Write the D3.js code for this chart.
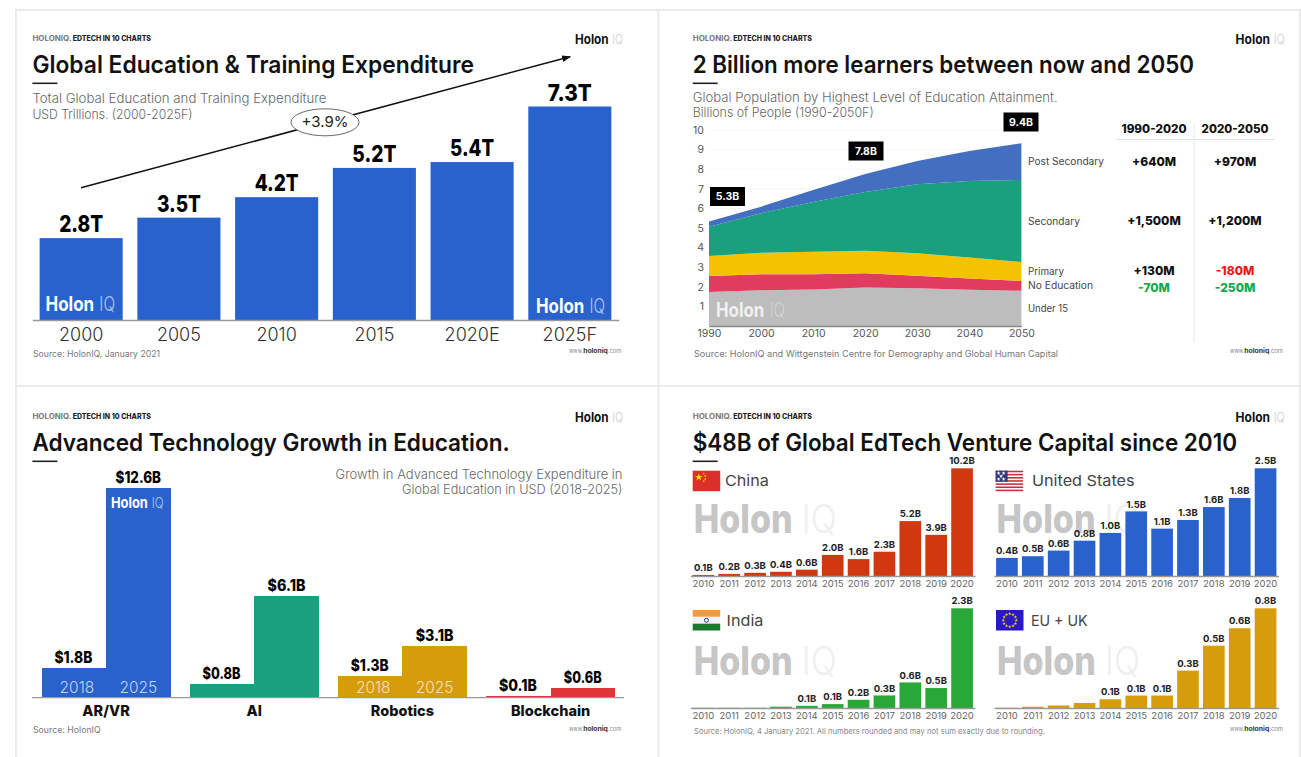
<!DOCTYPE html>
<html><head><meta charset="utf-8">
<script src="https://cdn.jsdelivr.net/npm/d3@7/dist/d3.min.js"></script>
<style>html,body{margin:0;padding:0;background:#fff;overflow:hidden}svg{display:block}text{font-family:Inter,"Noto Sans",sans-serif}</style>
</head><body><svg id="c" width="1301" height="757"></svg>
<script>
// Panel 1
const expYears = ["2000","2005","2010","2015","2020E","2025F"];
const expValues = [2.8,3.5,4.2,5.2,5.4,7.3];
// Panel 2
const popYears = [1990,2000,2010,2020,2030,2040,2050];
const under15 = [1.73,1.82,1.86,1.97,1.92,1.85,1.80];
const noEducation = [0.82,0.82,0.78,0.72,0.65,0.57,0.50];
const primary = [1.02,1.10,1.15,1.15,1.14,1.07,0.97];
const secondary = [1.50,2.01,2.54,3.00,3.52,3.91,4.18];
const postSecondary = [0.26,0.34,0.61,0.92,1.19,1.53,1.87];
const popTotals = [[1990,"5.3B"],[2020,"7.8B"],[2050,"9.4B"]];
const tableHead = ["1990-2020","2020-2050"];
const tablePeriod1 = ["+640M","+1,500M","+130M","-70M"];
const tablePeriod2 = ["+970M","+1,200M","-180M","-250M"];
// Panel 3
const techCats = ["AR/VR","AI","Robotics","Blockchain"];
const tech2018 = [1.8,0.8,1.3,0.1];
const tech2025 = [12.6,6.1,3.1,0.6];
// Panel 4
const vcYears = ["2010","2011","2012","2013","2014","2015","2016","2017","2018","2019","2020"];
const chinaVC = [0.1,0.2,0.3,0.4,0.6,2.0,1.6,2.3,5.2,3.9,10.2];
const usVC = [0.42,0.46,0.59,0.82,1.0,1.5,1.1,1.3,1.6,1.81,2.5];
const indiaVC = [0.005,0.005,0.005,0.03,0.05,0.09,0.19,0.29,0.59,0.46,2.3];
const euVC = [0.002,0.01,0.02,0.04,0.07,0.1,0.1,0.3,0.5,0.64,0.8];

const BLUE="#2962cc", GREEN="#18a07f", GOLD="#d69c0b", RED="#e03535";
const svg=d3.select("#c");
svg.append("rect").attr("width",1301).attr("height",757).attr("fill","#fff");

function t(g,x,y,s,o={}){
  const e=g.append("text").attr("x",x).attr("y",y).attr("dy",".36em").text(s)
    .attr("font-size",o.size||12).attr("font-weight",o.w||400).attr("fill",o.c||"#222")
    .attr("text-anchor",o.a||"start");
  if(o.len){e.attr("textLength",o.len).attr("lengthAdjust","spacingAndGlyphs");}
  return e;
}
function logo(g,x0,x1,y,size,c1,c2){
  const w=x1-x0, hw=w*0.70, gap=w*0.075;
  t(g,x0,y,"Holon",{size,w:700,c:c1,len:hw});
  t(g,x0+hw+gap,y,"IQ",{size,w:300,c:c2,len:w-hw-gap});
}
function chrome(px,py,title,titleEnd,hdEnd,wwwX0,wwwX1,wwwY,logoX0,logoX1,logoY){
  const g=svg.append("g");
  t(g,px,py,"HOLONIQ.",{size:7,w:700,c:"#777",len:(hdEnd-px)*0.33});
  t(g,px+(hdEnd-px)*0.34,py," EDTECH IN 10 CHARTS",{size:7,w:800,c:"#222",len:(hdEnd-px)*0.66});
  t(g,px,py+26.5,title,{size:24,w:600,c:"#111",len:titleEnd-px});
  g.append("rect").attr("x",px).attr("y",py+44.5).attr("width",25).attr("height",1.6).attr("fill","#222");
  t(g,wwwX0,wwwY,"www.",{size:6,c:"#888",len:(wwwX1-wwwX0)*0.27});
  t(g,wwwX0+(wwwX1-wwwX0)*0.27,wwwY,"holoniq",{size:6,w:700,c:"#333",len:(wwwX1-wwwX0)*0.47});
  t(g,wwwX0+(wwwX1-wwwX0)*0.74,wwwY,".com",{size:6,c:"#888",len:(wwwX1-wwwX0)*0.26});
  logo(g,logoX0,logoX1,logoY,13,"#111","#ccc");
  return g;
}
function styleAxis(ax,size,color,lineColor,weight){
  ax.selectAll(".tick line").remove();
  ax.select(".domain").attr("stroke",lineColor).attr("stroke-width",1.3);
  ax.selectAll("text").attr("font-size",size).attr("fill",color).attr("font-family","Inter,sans-serif").attr("font-weight",weight||400);
}

// panel frame
[[15,9,1286,1.8],[15,385,1286,1.8],[15,9,1.8,748],[657.5,9,1.8,748],[1299,9,1.8,748]].forEach(r=>
  svg.append("rect").attr("x",r[0]).attr("y",r[1]).attr("width",r[2]).attr("height",r[3]).attr("fill","#e9e9e9"));

// ---------- Panel 1
{
  const g=chrome(32.4,38,"Global Education & Training Expenditure",474,151,569,621.5,350.5,575,623,39);
  t(g,32.4,98,"Total Global Education and Training Expenditure",{size:13,c:"#666",w:300,len:294});
  t(g,32.4,114,"USD Trillions. (2000-2025F)",{size:13,c:"#666",w:300,len:160});
  const x=d3.scaleBand().domain(expYears).range([32.3,618.7]).paddingInner(.15).paddingOuter(.075);
  const y=d3.scaleLinear().domain([0,7.3]).range([320,106.5]);
  g.selectAll("rect.b").data(expValues).join("rect").attr("class","b")
    .attr("x",(d,i)=>x(expYears[i])).attr("width",x.bandwidth()).attr("y",d=>y(d)).attr("height",d=>y(0)-y(d)).attr("fill",BLUE);
  const ax=g.append("g").attr("transform","translate(0,320)").call(d3.axisBottom(x).tickSize(0).tickPadding(8));
  styleAxis(ax,18,"#333","#999",300);
  expValues.forEach((d,i)=>t(g,x(expYears[i])+x.bandwidth()/2,y(d)-14,d.toFixed(1)+"T",{size:23,w:800,c:"#000",a:"middle",len:44}));
  logo(g,45.5,115,304,20,"#fff","rgba(255,255,255,.65)");
  logo(g,536,605,306,20,"#fff","rgba(255,255,255,.65)");
  svg.append("defs").append("marker").attr("id","ah").attr("viewBox","0 0 8 6").attr("refX",7).attr("refY",3)
    .attr("markerWidth",6).attr("markerHeight",5).attr("orient","auto").append("path").attr("d","M0,0L8,3L0,6Z").attr("fill","#111");
  g.append("line").attr("x1",81).attr("y1",187.7).attr("x2",570).attr("y2",56.7).attr("stroke","#111").attr("stroke-width",1.5).attr("marker-end","url(#ah)");
  g.append("ellipse").attr("cx",325).attr("cy",122.3).attr("rx",34).attr("ry",13.5).attr("fill","#fff").attr("stroke","#444").attr("stroke-width",.8);
  t(g,325,121.5,"+3.9%",{size:15,c:"#222",a:"middle",len:47});
  t(g,33,354,"Source: HolonIQ, January 2021",{size:9,c:"#777",len:127});
}

// ---------- Panel 2
{
  const g=chrome(692.7,38,"2 Billion more learners between now and 2050",1194,812,1230,1283,350.5,1235.6,1284.7,39);
  t(g,692.7,97,"Global Population by Highest Level of Education Attainment.",{size:13,c:"#666",w:300,len:365});
  t(g,692.7,112,"Billions of People (1990-2050F)",{size:13,c:"#666",w:300,len:181});
  const x=d3.scaleLinear().domain([1990,2050]).range([709,1021.4]);
  const y=d3.scaleLinear().domain([0,10]).range([326,130]);
  const yTicks=d3.range(1,11);
  yTicks.forEach(v=>g.append("line").attr("x1",709).attr("x2",1021.4).attr("y1",y(v)).attr("y2",y(v)).attr("stroke","#f6f6f6"));
  const keys=["under15","noEducation","primary","secondary","postSecondary"];
  const src={under15,noEducation,primary,secondary,postSecondary};
  const rows=popYears.map((yr,i)=>{const r={yr};keys.forEach(k=>r[k]=src[k][i]);return r;});
  const cols={under15:"#bdbdbd",noEducation:"#e23b60",primary:"#f4c300",secondary:"#18a07f",postSecondary:"#446fc0"};
  const area=d3.area().x(d=>x(d.data.yr)).y0(d=>y(d[0])).y1(d=>y(d[1]));
  g.selectAll("path.a").data(d3.stack().keys(keys)(rows)).join("path").attr("class","a").attr("d",area).attr("fill",d=>cols[d.key]);
  const ax=g.append("g").attr("transform","translate(0,326)")
    .call(d3.axisBottom(x).tickValues(popYears).tickFormat(d3.format("d")).tickSize(0).tickPadding(3.5));
  styleAxis(ax,10.5,"#555","#888");
  const ay=g.append("g").attr("transform","translate(704,0)").call(d3.axisLeft(y).tickValues(yTicks).tickSize(0).tickPadding(0));
  styleAxis(ay,10.5,"#555","none");
  ay.select(".domain").remove();
  logo(g,716,785,309.5,20,"rgba(255,255,255,.8)","rgba(255,255,255,.35)");
  const bx={1990:[727.5,196.5],2020:[866,151],2050:[1021,122]};
  popTotals.forEach(([yr,l])=>{
    const [cx,cy]=bx[yr];
    g.append("rect").attr("x",cx-17.5).attr("y",cy-9.5).attr("width",35).attr("height",19).attr("fill","#000");
    t(g,cx,cy,l,{size:10.5,w:700,c:"#fff",a:"middle"});
  });
  [["Post Secondary",161,76],["Secondary",221,52],["Primary",271,36],["No Education",285.5,65],["Under 15",308,40]].forEach(d=>
    t(g,1028,d[1],d[0],{size:10,c:"#444",len:d[2]}));
  tableHead.forEach((h,i)=>t(g,[1154,1235][i],129,h,{size:11.5,w:800,c:"#111",a:"middle",len:[65,67][i]}));
  g.append("line").attr("x1",1116).attr("x2",1274.5).attr("y1",139.5).attr("y2",139.5).attr("stroke","#e2e2e2").attr("stroke-width",1.2);
  g.append("line").attr("x1",1194).attr("x2",1194).attr("y1",125).attr("y2",342).attr("stroke","#e6e6e6").attr("stroke-width",1);
  const rowY=[162,221,271,287.5];
  const col=s=>s==="-180M"?"#f01616":(s==="-70M"||s==="-250M")?"#14a84a":"#111";
  tablePeriod1.forEach((s,i)=>t(g,1154,rowY[i],s,{size:12,w:800,c:col(s),a:"middle"}));
  tablePeriod2.forEach((s,i)=>t(g,1235,rowY[i],s,{size:12,w:800,c:col(s),a:"middle"}));
  t(g,694,354,"Source: HolonIQ and Wittgenstein Centre for Demography and Global Human Capital",{size:9,c:"#777",len:364});
}

// ---------- Panel 3
{
  const g=chrome(32.4,416,"Advanced Technology Growth in Education.",509.7,151,569,621.5,728.7,575,623,417);
  t(g,622.5,474,"Growth in Advanced Technology Expenditure in",{size:13,c:"#666",w:300,a:"end",len:287});
  t(g,622.5,489.3,"Global Education in USD (2018-2025)",{size:13,c:"#666",w:300,a:"end",len:220.5});
  const x=d3.scaleBand().domain(techCats).range([41.7,615]).paddingInner(.1306).paddingOuter(0);
  const inner=d3.scaleBand().domain(["2018","2025"]).range([0,x.bandwidth()]);
  const y=d3.scaleLinear().domain([0,12.6]).range([697.7,488]);
  const colors=[BLUE,GREEN,GOLD,RED];
  techCats.forEach((c,i)=>{
    [["2018",tech2018[i]],["2025",tech2025[i]]].forEach(([yr,v])=>{
      g.append("rect").attr("x",x(c)+inner(yr)).attr("width",inner.bandwidth()).attr("y",y(v)).attr("height",y(0)-y(v)).attr("fill",colors[i]).attr("shape-rendering","crispEdges");
      const s="$"+v.toFixed(1)+"B";
      t(g,x(c)+inner(yr)+inner.bandwidth()/2+(yr==="2018"?-0.5:0),y(v)-10.7,s,{size:15.5,w:800,c:"#000",a:"middle",len:s.length*7.58});
      if(i===0||i===2) t(g,x(c)+inner(yr)+inner.bandwidth()/2+(yr==="2018"?3:0),687.7,yr,{size:15.5,w:300,c:"rgba(255,255,255,.72)",a:"middle"});
    });
  });
  const ax=g.append("g").attr("transform","translate(0,697.7)").call(d3.axisBottom(x).tickSize(0).tickPadding(8.5));
  styleAxis(ax,14.5,"#111","#999",800);
  ax.select(".domain").remove();
  g.append("line").attr("x1",32).attr("x2",624).attr("y1",697.7).attr("y2",697.7).attr("stroke","#999").attr("stroke-width",1.3);
  logo(g,111,163.7,503,15,"#fff","rgba(255,255,255,.65)");
  t(g,33,729.3,"Source: HolonIQ",{size:9,c:"#777",len:67.6});
}

// ---------- Panel 4
{
  const g=chrome(692.7,416,"$48B of Global EdTech Venture Capital since 2010",1237,812,1230,1283,728.7,1235.6,1284.7,417);
  const labelMin=0.05;
  function multiple(name,vals,color,r0,r1,base,top,textX,textEnd,flagX,flagY,flagFn){
    const x=d3.scaleBand().domain(vcYears).range([r0,r1]).paddingInner(.162).paddingOuter(.081);
    const y=d3.scaleLinear().domain([0,d3.max(vals)]).range([base,top]);
    // watermark
    const wm=g.append("g");
    t(wm,flagX+1,base-(base>650?47:57.5),"Holon",{size:40,w:800,c:"#c6c6c6",len:99});
    t(wm,flagX+109,base-(base>650?47:57.5),"IQ",{size:40,w:300,c:"#efefef",len:35});
    g.selectAll(null).data(vals).join("rect").attr("x",(d,i)=>x(vcYears[i])).attr("width",x.bandwidth())
      .attr("y",d=>y(d)).attr("height",d=>y(0)-y(d)).attr("fill",color);
    const ax=g.append("g").attr("transform",`translate(0,${base})`).call(d3.axisBottom(x).tickSize(0).tickPadding(3.8));
    styleAxis(ax,9.5,"#666","#999");
    vals.forEach((d,i)=>{ if(d>=labelMin) t(g,x(vcYears[i])+x.bandwidth()/2,y(d)-7.3,d.toFixed(1)+"B",{size:9.5,w:700,c:"#222",a:"middle"}); });
    flagFn(g.append("g").attr("transform",`translate(${flagX},${flagY})`));
    t(g,textX,flagY+10.3,name,{size:15,w:400,c:"#444",len:textEnd-textX});
  }
  const W=27.5,H=20.5;
  const star=(f,cx,cy,r,c)=>f.append("path").attr("d",d3.symbol(d3.symbolStar,r)()).attr("transform",`translate(${cx},${cy})`).attr("fill",c);
  const china=f=>{f.append("rect").attr("width",W).attr("height",H).attr("fill","#d9302a");star(f,6,6.5,18,"#ffde00");[[11,3],[12.5,5.5],[12.5,8.5],[11,10.5]].forEach(p=>star(f,p[0],p[1],2,"#ffde00"));};
  const usa=f=>{f.append("rect").attr("width",W).attr("height",H).attr("fill","#fff");
    d3.range(7).forEach(i=>f.append("rect").attr("y",i*H/6.5).attr("width",W).attr("height",H/13).attr("fill","#c8323e"));
    f.append("rect").attr("width",12).attr("height",H/13*7).attr("fill","#33397e");
    [[3,2.5],[8,2.5],[5.5,5.5],[3,8.5],[8,8.5]].forEach(p=>star(f,p[0],p[1],5,"#fff"));};
  const india=f=>{f.append("rect").attr("width",W).attr("height",H/3).attr("fill","#f79a3c");
    f.append("rect").attr("y",H/3).attr("width",W).attr("height",H/3).attr("fill","#f2f2f2");
    f.append("rect").attr("y",2*H/3).attr("width",W).attr("height",H/3).attr("fill","#1a7a2c");
    f.append("circle").attr("cx",W/2).attr("cy",H/2).attr("r",2).attr("fill","none").attr("stroke","#223a8a").attr("stroke-width",1);};
  const eu=f=>{f.append("rect").attr("width",W).attr("height",H).attr("fill","#2a18c4");
    d3.range(12).forEach(i=>star(f,W/2+6.5*Math.sin(i*Math.PI/6),H/2-6.5*Math.cos(i*Math.PI/6),4,"#f4d000"));};
  multiple("China",chinaVC,"#d0380f",690.4,975,576,468.3,725,768.8,692.7,470.7,china);
  multiple("United States",usVC,BLUE,994,1278.5,576,468.3,1032,1134.6,995.6,470.7,usa);
  multiple("India",indiaVC,"#2aa837",690.4,975,708,608.3,726.6,763.4,692.7,610,india);
  multiple("EU + UK",euVC,GOLD,994,1278.5,708,608.3,1031,1087.6,996,610,eu);
  t(g,694,731,"Source: HolonIQ, 4 January 2021. All numbers rounded and may not sum exactly due to rounding.",{size:8,c:"#888",len:351});
}
</script></body></html>
